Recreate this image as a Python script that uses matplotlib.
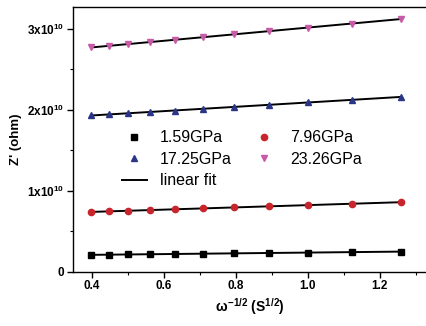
import numpy as np
import matplotlib
matplotlib.use("Agg")
import matplotlib.pyplot as plt
from matplotlib.ticker import MultipleLocator, FixedLocator

plt.rcParams['font.family'] = ['Liberation Sans', 'DejaVu Sans']
plt.rcParams['mathtext.fontset'] = 'custom'
plt.rcParams['mathtext.rm'] = 'Liberation Sans:bold'
plt.rcParams['mathtext.it'] = 'Liberation Sans:bold'
plt.rcParams['mathtext.bf'] = 'Liberation Sans:bold'

# omega^-1/2 values (s^1/2)
x = [0.398, 0.447, 0.501, 0.562, 0.631, 0.708, 0.794, 0.891, 1.0, 1.122, 1.259]

# Z' values in units of 1e10 ohm
z_159 = [0.210, 0.212, 0.215, 0.218, 0.221, 0.225, 0.229, 0.233, 0.238, 0.244, 0.250]
z_796 = [0.740, 0.747, 0.755, 0.762, 0.772, 0.783, 0.795, 0.808, 0.824, 0.841, 0.860]
z_1725 = [1.930, 1.944, 1.956, 1.973, 1.991, 2.013, 2.035, 2.060, 2.090, 2.122, 2.160]
z_2326 = [2.770, 2.788, 2.810, 2.836, 2.864, 2.896, 2.930, 2.970, 3.014, 3.064, 3.120]

labels = ["1.59GPa", "7.96GPa", "17.25GPa", "23.26GPa"]
ytick_vals = [0, 1, 2, 3]
ytick_labels = ["0", r"1x10$^{10}$", r"2x10$^{10}$", r"3x10$^{10}$"]

fig = plt.figure(figsize=(4.26, 3.26), dpi=100)
ax = fig.add_axes([0.171, 0.166, 0.829, 0.813])

series = [z_159, z_796, z_1725, z_2326]
styles = [('s', '#000000'), ('o', '#c8242c'), ('^', '#2a3586'), ('v', '#c85aa8')]
handles = []
xs = np.array(x)
for ys, (m, c), lab in zip(series, styles, labels):
    ys = np.array(ys) * 1e10
    h, = ax.plot(xs, ys, linestyle='none', marker=m, color=c, markersize=4.5, label=lab, zorder=3)
    handles.append(h)
    p = np.polyfit(xs, ys, 1)
    fit, = ax.plot(xs, np.polyval(p, xs), color='black', linewidth=1.4, zorder=2, label='linear fit')

ax.set_xlim(0.347, 1.328)
ax.set_ylim(0, 3.27e10)

ax.xaxis.set_major_locator(FixedLocator([0.4, 0.6, 0.8, 1.0, 1.2]))
ax.xaxis.set_minor_locator(MultipleLocator(0.1))
ax.set_xticklabels(["0.4", "0.6", "0.8", "1.0", "1.2"])
ax.set_yticks([v * 1e10 for v in ytick_vals])
ax.set_yticklabels(ytick_labels)
ax.yaxis.set_minor_locator(MultipleLocator(0.5e10))

ax.tick_params(which='major', direction='out', length=4, width=1, labelsize=8.5, pad=2)
ax.tick_params(which='minor', direction='out', length=2, width=0.8)
for t in ax.get_xticklabels() + ax.get_yticklabels():
    t.set_fontweight('bold')

ax.spines['right'].set_visible(False)
for s in ['left', 'bottom', 'top']:
    ax.spines[s].set_linewidth(1.0)

ax.set_xlabel(r"$\omega^{-1/2}$ (S$^{1/2}$)", fontsize=10, fontweight='bold', labelpad=3)
ax.set_ylabel("Z' (ohm)", fontsize=9.5, fontweight='bold', labelpad=4)

order = [handles[0], handles[2], fit, handles[1], handles[3]]
ax.legend(order, [h.get_label() for h in order], ncol=2, frameon=False,
          loc='center', bbox_to_anchor=(0.478, 0.425), fontsize=11.5,
          handlelength=1.6, handletextpad=0.8, columnspacing=1.25,
          labelspacing=0.4, borderpad=0.2)

fig.savefig("out.png", dpi=100)
